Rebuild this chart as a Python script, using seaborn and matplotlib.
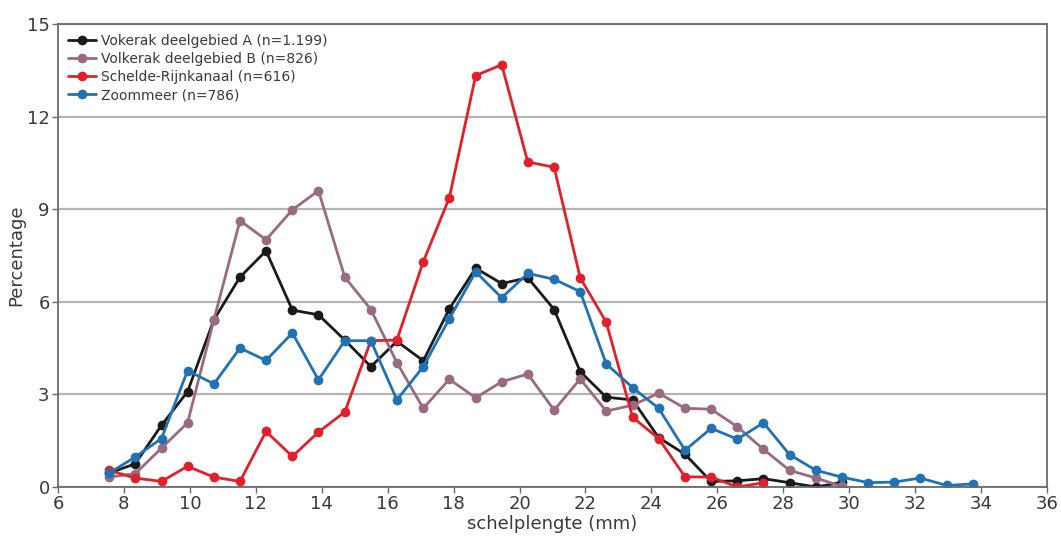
import numpy as np
import pandas as pd
import matplotlib
matplotlib.use("Agg")
import matplotlib.pyplot as plt
import seaborn as sns

# shell length bins (mm)
x_all = [7.55, 8.34, 9.14, 9.93, 10.73, 11.52, 12.31, 13.11, 13.90, 14.70,
         15.49, 16.28, 17.08, 17.87, 18.67, 19.46, 20.25, 21.05, 21.84, 22.63,
         23.43, 24.22, 25.02, 25.81, 26.61, 27.40, 28.19, 28.99, 29.78, 30.58,
         31.37, 32.16, 32.96, 33.75]

vol_a = [0.45, 0.75, 2.00, 3.09, 5.42, 6.80, 7.65, 5.73, 5.58, 4.76,
         3.90, 4.72, 4.09, 5.77, 7.09, 6.59, 6.78, 5.75, 3.74, 2.91,
         2.82, 1.60, 1.06, 0.18, 0.20, 0.27, 0.14, 0.00, 0.15]

vol_b = [0.32, 0.43, 1.26, 2.08, 5.42, 8.63, 8.01, 8.98, 9.60, 6.80,
         5.75, 4.03, 2.55, 3.49, 2.89, 3.41, 3.66, 2.49, 3.50, 2.46,
         2.65, 3.04, 2.55, 2.52, 1.95, 1.22, 0.54, 0.29, 0.02]

schelde = [0.54, 0.29, 0.18, 0.67, 0.32, 0.18, 1.80, 0.99, 1.78, 2.43,
           4.74, 4.76, 7.30, 9.37, 13.33, 13.68, 10.53, 10.36, 6.78, 5.34,
           2.26, 1.57, 0.33, 0.32, 0.00, 0.14]

zoommeer = [0.45, 0.97, 1.57, 3.77, 3.34, 4.50, 4.10, 4.99, 3.47, 4.74,
            4.74, 2.82, 3.90, 5.45, 6.97, 6.13, 6.92, 6.73, 6.33, 3.99,
            3.22, 2.55, 1.19, 1.90, 1.55, 2.08, 1.05, 0.54, 0.32, 0.14,
            0.16, 0.29, 0.05, 0.10]

series_names = ["Vokerak deelgebied A (n=1.199)",
                "Volkerak deelgebied B (n=826)",
                "Schelde-Rijnkanaal (n=616)",
                "Zoommeer (n=786)"]
series_vals = [vol_a, vol_b, schelde, zoommeer]
colors = ["#1a1a1a", "#9a6a82", "#e3202a", "#2072b4"]

xticks = list(range(6, 37, 2))
yticks = [0, 3, 6, 9, 12, 15]

rows = []
for name, vals in zip(series_names, series_vals):
    for xv, yv in zip(x_all, vals):
        rows.append({"x": xv, "y": yv, "serie": name})
df = pd.DataFrame(rows)

sns.set_theme(style="white")
plt.rcParams["font.family"] = ["DejaVu Sans"]

fig = plt.figure(figsize=(10.61, 5.44), dpi=100)
ax = fig.add_axes([58 / 1061, 1 - 487 / 544, (1047 - 58) / 1061, (487 - 24) / 544])

sns.lineplot(data=df, x="x", y="y", hue="serie", hue_order=series_names,
             palette=colors, marker="o", markersize=7, markeredgewidth=0,
             linewidth=2, ax=ax, sort=False, estimator=None)

ax.set_xlim(6, 36)
ax.set_ylim(0, 15)
ax.set_xticks(xticks)
ax.set_yticks(yticks)
ax.yaxis.grid(True, color="#b4b4b4", linewidth=1.6)
ax.xaxis.grid(False)
ax.set_axisbelow(True)
for s in ax.spines.values():
    s.set_visible(True)
    s.set_color("#6a6a6a")
    s.set_linewidth(1.3)
ax.tick_params(axis="both", which="both", length=4, width=1, color="#6a6a6a",
               labelsize=13, labelcolor="#3a3a3a", direction="out", pad=2)
ax.tick_params(axis="x", bottom=True)
ax.tick_params(axis="y", left=True)
ax.set_xlabel("schelplengte (mm)", fontsize=13, color="#3a3a3a", labelpad=1)
ax.set_ylabel("Percentage", fontsize=13, color="#3a3a3a", labelpad=1)

leg = ax.legend(loc="upper left", fontsize=10, frameon=False,
                labelspacing=0.3, handlelength=2.0, handletextpad=0.4,
                borderaxespad=0.3, bbox_to_anchor=(0.0, 1.0))
for t in leg.get_texts():
    t.set_color("#3a3a3a")

fig.savefig("out.png", dpi=100)
